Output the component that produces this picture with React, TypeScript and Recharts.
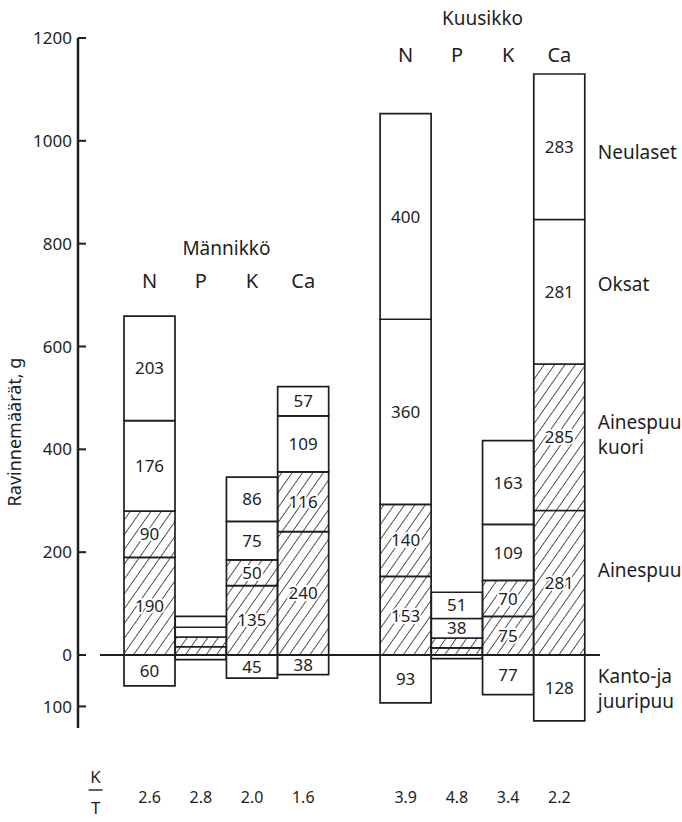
import React from "react";
import { BarChart, Bar, XAxis, YAxis, LabelList, ReferenceLine } from "recharts";

// ---- data ----
const categories = ["N", "P", "K", "Ca", "", "N", "P", "K", "Ca"];
const groups = ["Männikkö", "Männikkö", "Männikkö", "Männikkö", "", "Kuusikko", "Kuusikko", "Kuusikko", "Kuusikko"];
const kanto = [-60, -9, -45, -38, null, -93, -7, -77, -128];
const ainespuu = [190, 16, 135, 240, null, 153, 14, 75, 281];
const kuori = [90, 19, 50, 116, null, 140, 19, 70, 285];
const oksat = [176, 19, 75, 109, null, 360, 38, 109, 281];
const neulaset = [203, 21, 86, 57, null, 400, 51, 163, 283];
const ktRatio = ["2.6", "2.8", "2.0", "1.6", "", "3.9", "4.8", "3.4", "2.2"];
const yTicks = [-100, 0, 200, 400, 600, 800, 1000, 1200];

const seriesNames = {
  kanto: ["Kanto-ja", "juuripuu"],
  ainespuu: ["Ainespuu"],
  kuori: ["Ainespuu", "kuori"],
  oksat: ["Oksat"],
  neulaset: ["Neulaset"],
};

const LAST = categories.length - 1;

const data = categories.map((c, i) => ({
  key: `${groups[i]}-${c}-${i}`,
  kanto: kanto[i],
  ainespuu: ainespuu[i],
  kuori: kuori[i],
  oksat: oksat[i],
  neulaset: neulaset[i],
  legend: i === LAST ? 1 : 0,
}));

// ---- style ----
const FONT = "'Noto Sans', 'DejaVu Sans', sans-serif";
const INK = "#1e1e1e";
const LINE_GAP = 25;

const letterY: Record<string, number> = { "Männikkö": 288, Kuusikko: 62 };
const titleY: Record<string, number> = { "Männikkö": 255, Kuusikko: 25 };
const legendDy: Record<string, number> = { kanto: 1, ainespuu: -13, kuori: -3, oksat: -8, neulaset: 5 };

const XTick = (props: any) => {
  const { x, index } = props;
  const g = groups[index];
  const out: React.ReactNode[] = [];
  if (categories[index]) {
    out.push(
      <text key="l" x={x} y={letterY[g]} textAnchor="middle" fontSize={20} fill={INK} fontFamily={FONT}>
        {categories[index]}
      </text>
    );
    out.push(
      <text key="r" x={x} y={803} textAnchor="middle" fontSize={16} fill={INK} fontFamily={FONT}>
        {ktRatio[index]}
      </text>
    );
  }
  if (index > 0 && groups[index] && groups[index - 1] === g && (index < 2 || groups[index - 2] !== g)) {
    out.push(
      <text key="t" x={x + 25.6} y={titleY[g]} textAnchor="middle" fontSize={19} fill={INK} fontFamily={FONT}>
        {g}
      </text>
    );
  }
  if (index === 0) {
    out.push(
      <g key="kt" fontFamily={FONT} fontSize={17} fill={INK}>
        <text x={x - 54} y={783} textAnchor="middle">K</text>
        <line x1={x - 61} x2={x - 47} y1={790} y2={790} stroke={INK} strokeWidth={1.4} />
        <text x={x - 54} y={814} textAnchor="middle">T</text>
      </g>
    );
  }
  return <g>{out}</g>;
};

const YTick = (props: any) => {
  const { x, y, payload } = props;
  return (
    <g>
      <line x1={x + 6} x2={x + 14} y1={y} y2={y} stroke={INK} strokeWidth={2} />
      <text x={x} y={y} dy="0.36em" textAnchor="end" fontSize={17} fill={INK} fontFamily={FONT}>
        {Math.abs(payload.value)}
      </text>
    </g>
  );
};

const makeValueLabel = (hatched: boolean) => (p: any) => {
  const { x, y, width, height, value } = p;
  if (value == null || Math.abs(value) < 30) return null;
  return (
    <text
      x={x + width / 2}
      y={y + height / 2}
      dy="0.36em"
      textAnchor="middle"
      fontSize={17}
      fill={INK}
      fontFamily={FONT}
      stroke={hatched ? "#fff" : "none"}
      strokeWidth={hatched ? 4 : 0}
      paintOrder="stroke"
      strokeLinejoin="round"
    >
      {Math.abs(value)}
    </text>
  );
};

const makeLegendLabel = (name: keyof typeof seriesNames) => (p: any) => {
  const { x, y, width, height, value } = p;
  if (!value) return null;
  const lines = seriesNames[name];
  const cy = y + height / 2 + legendDy[name];
  const top = cy - ((lines.length - 1) * LINE_GAP) / 2;
  return (
    <g>
      {lines.map((l, i) => (
        <text
          key={i}
          x={x + width + 13}
          y={top + i * LINE_GAP}
          dy="0.36em"
          fontSize={19}
          fill={INK}
          fontFamily={FONT}
        >
          {l}
        </text>
      ))}
    </g>
  );
};

const ZeroLine = (props: any) => {
  const { x1, x2, y1 } = props;
  return <line x1={x1 + 22} x2={x2} y1={y1} y2={y1} stroke={INK} strokeWidth={1.8} />;
};

const series: { key: keyof typeof seriesNames; hatched: boolean }[] = [
  { key: "kanto", hatched: false },
  { key: "ainespuu", hatched: true },
  { key: "kuori", hatched: true },
  { key: "oksat", hatched: false },
  { key: "neulaset", hatched: false },
];

export default function App() {
  return (
    <div style={{ position: "absolute", left: 0, top: 0, width: 682, height: 822, background: "#fff" }}>
      <BarChart
        width={682}
        height={822}
        data={data}
        stackOffset="sign"
        barCategoryGap={0}
        margin={{ top: 38, right: 82, bottom: 34, left: 0 }}
      >
        <defs>
          <pattern id="hatch" patternUnits="userSpaceOnUse" width={8.5} height={8.5} patternTransform="rotate(35)">
            <rect width={8.5} height={8.5} fill="#fff" />
            <line x1={0} y1={0} x2={0} y2={8.5} stroke={INK} strokeWidth={1.5} />
          </pattern>
        </defs>
        <XAxis
          dataKey="key"
          axisLine={false}
          tickLine={false}
          tickSize={0}
          height={60}
          interval={0}
          padding={{ left: 46, right: 15 }}
          tick={<XTick />}
        />
        <YAxis
          type="number"
          domain={[-142, 1200]}
          ticks={yTicks}
          interval={0}
          width={78}
          tickLine={false}
          tickSize={0}
          tickMargin={6}
          axisLine={{ stroke: INK, strokeWidth: 2.5 }}
          tick={<YTick />}
          label={{
            content: () => (
              <text
                x={15}
                y={432}
                transform="rotate(-90 15 432)"
                textAnchor="middle"
                dy="0.36em"
                fontSize={18}
                fill={INK}
                fontFamily={FONT}
              >
                Ravinnemäärät, g
              </text>
            ),
          }}
        />
        {series.map((s) => (
          <Bar
            key={s.key}
            dataKey={s.key}
            stackId="a"
            fill={s.hatched ? "url(#hatch)" : "#fff"}
            stroke={INK}
            strokeWidth={1.7}
            isAnimationActive={false}
          >
            <LabelList dataKey={s.key} content={makeValueLabel(s.hatched)} />
            <LabelList dataKey="legend" content={makeLegendLabel(s.key)} />
          </Bar>
        ))}
        <ReferenceLine y={0} shape={<ZeroLine />} ifOverflow="visible" />
      </BarChart>
    </div>
  );
}
